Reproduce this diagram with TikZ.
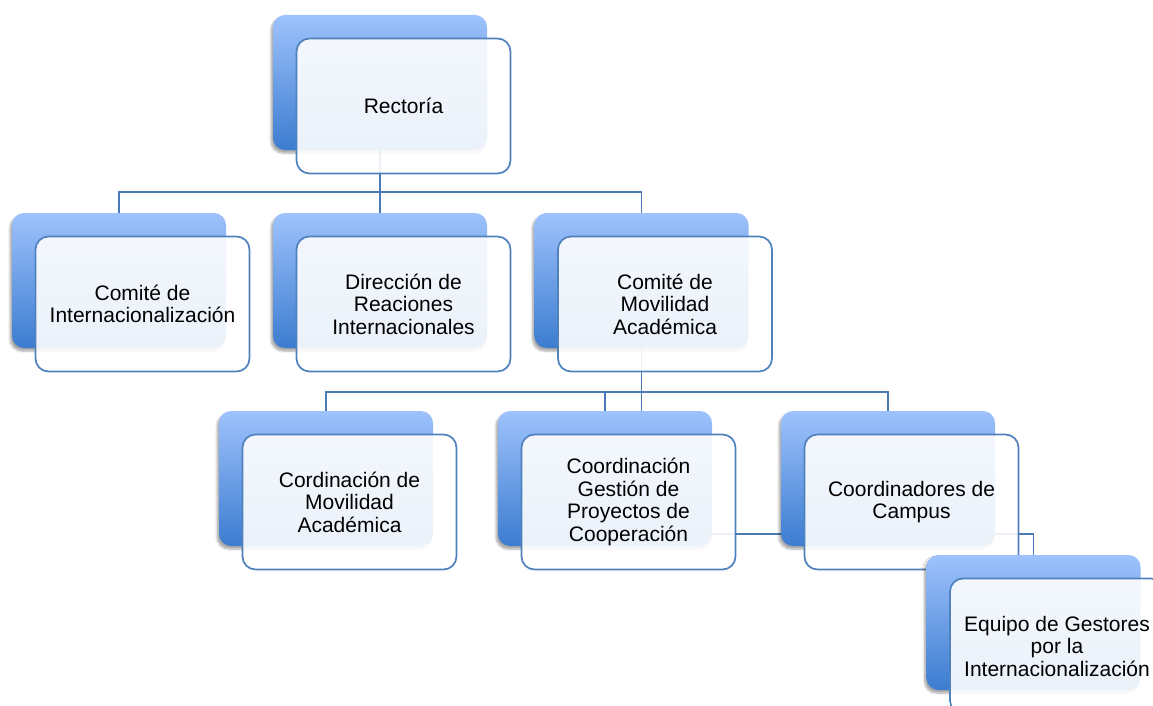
\documentclass[tikz,border=0pt]{standalone}
\usepackage{fontspec}
\setmainfont{Liberation Sans}
\usetikzlibrary{shadows.blur}
\definecolor{bordc}{RGB}{79,129,189}
\definecolor{linec}{RGB}{74,122,182}
\definecolor{topc}{RGB}{158,194,252}
\definecolor{botc}{RGB}{60,124,208}
\pgfdeclarelayer{bg}
\pgfsetlayers{bg,main}
\tikzset{
  backbox/.style={rectangle, rounded corners=12pt, minimum width=214pt, minimum height=135pt,
    inner sep=0pt, top color=topc, bottom color=botc, draw=none,
    blur shadow={shadow xshift=-2pt, shadow yshift=-3pt, shadow blur steps=6, shadow opacity=35}},
  frontbox/.style={rectangle, rounded corners=13pt, minimum width=214pt, minimum height=135pt,
    inner sep=4pt, fill=white, fill opacity=0.9, text opacity=1, draw=bordc, draw opacity=1,
    line width=1.7pt, align=center, font=\fontsize{21}{22.5}\selectfont},
  conn/.style={draw=linec, line width=1.8pt},
}
\newcommand\orgunit[4]{%
  \node[backbox] (#1B) at (#2,#3) {};
  \node[frontbox] (#1F) at ({#2+23.5},{#3+23.5}) {#4};
}
\begin{document}
\begin{tikzpicture}[x=1pt,y=-1pt]
\useasboundingbox (0,0) rectangle (1153,706);
\orgunit{R}{380}{82.5}{Rectoría}
\orgunit{CI}{119}{280.5}{Comité de\\Internacionalización}
\orgunit{D}{380}{280.5}{Dirección de\\Reaciones\\Internacionales}
\orgunit{CM}{641.5}{280.5}{Comité de\\Movilidad\\Académica}
\orgunit{CMA}{326}{478.5}{Cordinación de\\Movilidad\\Académica}
\orgunit{CG}{605}{478.5}{Coordinación\\Gestión de\\Proyectos de\\Cooperación}
\orgunit{CC}{888}{478.5}{Coordinadores de\\Campus}
\orgunit{E}{1033.5}{622.5}{Equipo de Gestores\\por la\\Internacionalización}
\begin{pgfonlayer}{bg}
  \draw[conn] (RB.south) -- ++(0,42) -| (CIB.north);
  \draw[conn] (RB.south) -- (DB.north);
  \draw[conn] (RB.south) -- ++(0,42) -| (CMB.north);
  \draw[conn] (CMB.south) -- ++(0,43.5) -| (CMAB.north);
  \draw[conn] (CMB.south) -- ++(0,43.5) -| (CGB.north);
  \draw[conn] (CMB.south) -- ++(0,43.5) -| (CCB.north);
  \draw[conn] (CMB.south) -- (CMB.south |- CGB.north);
  \draw[conn] ([yshift=-55.5pt]CGB.east) -| (EB.north);
\end{pgfonlayer}
\end{tikzpicture}
\end{document}
